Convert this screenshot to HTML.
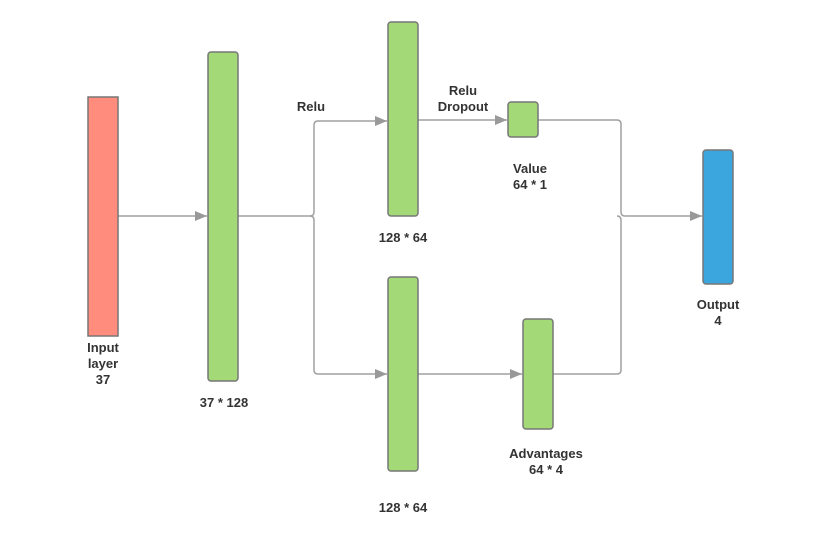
<!DOCTYPE html>
<html><head><style>
body{margin:0;background:#fff;}
svg text{font-family:"Liberation Sans",sans-serif;font-weight:bold;font-size:13px;fill:#333;text-anchor:middle;}
</style></head><body>
<svg width="823" height="549" viewBox="0 0 823 549" xmlns="http://www.w3.org/2000/svg">
<defs><marker id="a" markerWidth="12" markerHeight="10" refX="12" refY="5" orient="auto" markerUnits="userSpaceOnUse"><path d="M0,0 L12,5 L0,10 z" fill="#999"/></marker></defs>
<g fill="none" stroke="#a0a0a0" stroke-width="1.5">
<path d="M118,216 H207" marker-end="url(#a)"/>
<path d="M238,216 H310 Q314,216 314,212 V125 Q314,121 318,121 H387" marker-end="url(#a)"/>
<path d="M310,216 Q314,216 314,220 V370 Q314,374 318,374 H387" marker-end="url(#a)"/>
<path d="M418,120 H507" marker-end="url(#a)"/>
<path d="M418,374 H522" marker-end="url(#a)"/>
<path d="M538,120 H617 Q621,120 621,124 V212 Q621,216 625,216 H702" marker-end="url(#a)"/>
<path d="M553,374 H617 Q621,374 621,370 V220 Q621,216 617,216"/>
</g>
<g stroke="#777" stroke-width="1.5">
<rect x="88" y="97" width="30" height="239" fill="#FF8C7C"/>
<rect x="208" y="52" width="30" height="329" rx="3" fill="#A3D977"/>
<rect x="388" y="22" width="30" height="194" rx="3" fill="#A3D977"/>
<rect x="388" y="277" width="30" height="194" rx="3" fill="#A3D977"/>
<rect x="508" y="102" width="30" height="35" rx="3" fill="#A3D977"/>
<rect x="523" y="319" width="30" height="110" rx="3" fill="#A3D977"/>
<rect x="703" y="150" width="30" height="134" rx="3" fill="#3AA6DD"/>
</g>
<text x="311" y="111">Relu</text>
<text x="463" y="95">Relu</text>
<text x="463" y="111">Dropout</text>
<text x="403" y="242">128 * 64</text>
<text x="530" y="173">Value</text>
<text x="530" y="189">64 * 1</text>
<text x="224" y="407">37 * 128</text>
<text x="103" y="352">Input</text>
<text x="103" y="368">layer</text>
<text x="103" y="384">37</text>
<text x="546" y="458">Advantages</text>
<text x="546" y="474">64 * 4</text>
<text x="403" y="512">128 * 64</text>
<text x="718" y="309">Output</text>
<text x="718" y="325">4</text>
</svg>
</body></html>
